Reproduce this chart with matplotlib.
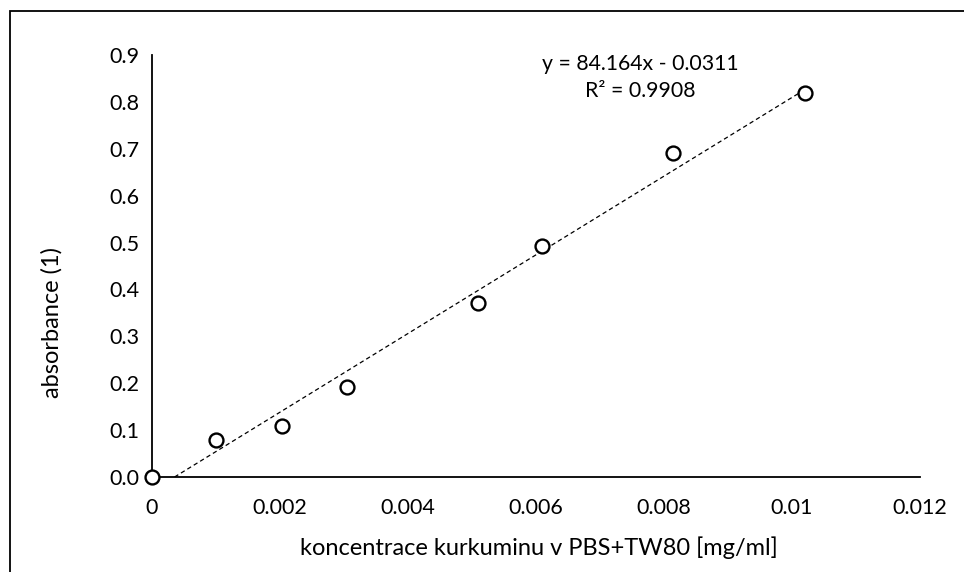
import matplotlib.pyplot as plt
import numpy as np
from matplotlib.patches import Rectangle

plt.rcParams['font.family'] = ['Lato', 'DejaVu Sans']

# kalibrace kurkuminu
konc = [0.0, 0.0010, 0.00203, 0.00305, 0.0051, 0.0061, 0.00814, 0.0102]
absorb = [0.0, 0.079, 0.109, 0.192, 0.371, 0.492, 0.690, 0.819]
xticks = [0, 0.002, 0.004, 0.006, 0.008, 0.01, 0.012]
xticklabels = ['0', '0.002', '0.004', '0.006', '0.008', '0.01', '0.012']
yticks = np.arange(0, 0.91, 0.1)
rovnice = 'y = 84.164x - 0.0311\nR² = 0.9908'

fig = plt.figure(figsize=(9.64, 5.72), dpi=100)
ax = fig.add_axes([152/964, 1 - 477/572, (920 - 152)/964, (477 - 55)/572])

# linearni trend
k, q = np.polyfit(konc, absorb, 1)
x0 = max(-q / k, 0)
xs = np.array([x0, max(konc)])
ax.plot(xs, k*xs + q, color='black', lw=0.9, ls=(0, (3.5, 2.5)))

ax.plot(konc, absorb, 'o', mfc='white', mec='black', ms=10, mew=1.7,
        clip_on=False, zorder=5)

ax.set_xlim(0, 0.012)
ax.set_ylim(0, 0.9)
ax.set_xticks(xticks)
ax.set_xticklabels(xticklabels)
ax.set_yticks(yticks)
ax.set_yticklabels(['%.1f' % v for v in yticks])
ax.tick_params(length=0, labelsize=15.5)
ax.tick_params(axis='x', pad=15)
ax.tick_params(axis='y', pad=9)

for s in ['top', 'right']:
    ax.spines[s].set_visible(False)
for s in ['left', 'bottom']:
    ax.spines[s].set_linewidth(1.3)

ax.set_xlabel('koncentrace kurkuminu v PBS+TW80 [mg/ml]', fontsize=17)
ax.xaxis.set_label_coords(0.504, -0.14)
ax.set_ylabel('absorbance (1)', fontsize=17)
ax.yaxis.set_label_coords(-0.117, 0.367)

ax.text(0.00763, 0.852, rovnice, ha='center', va='center', fontsize=15.3,
        linespacing=1.45)

fig.add_artist(Rectangle((10/964, -0.1), 1.2, 1.1 - 11/572,
                         transform=fig.transFigure, fill=False,
                         edgecolor='black', lw=1.3))

fig.savefig('out.png', dpi=100)
